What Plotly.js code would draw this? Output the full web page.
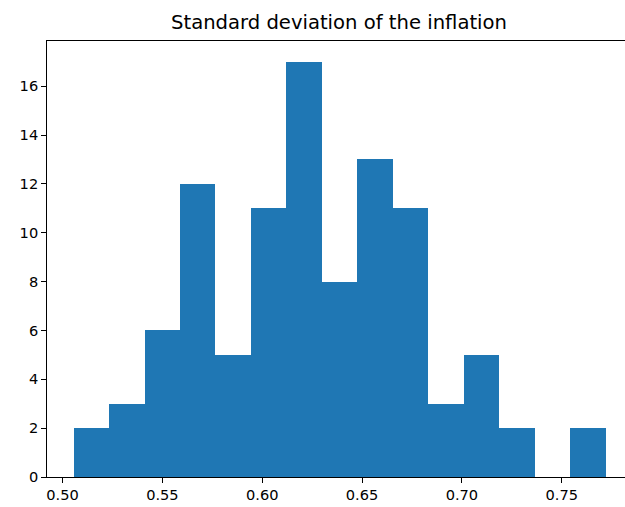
<!DOCTYPE html>
<html>
<head>
<meta charset="utf-8">
<script src="https://cdn.plot.ly/plotly-3.0.1.min.js"></script>
<style>
  html, body { margin: 0; padding: 0; overflow: hidden; background: #fff; }
  #chart { width: 625px; height: 507px; }
</style>
</head>
<body>
<div id="chart"></div>
<script>
// Histogram of the standard deviation of inflation: 15 equal-width bins
const binStart = 0.5055;
const binWidth = 0.01777;
const counts = [2, 3, 6, 12, 5, 11, 17, 8, 13, 11, 3, 5, 2, 0, 2];
const xTickVals = [0.50, 0.55, 0.60, 0.65, 0.70, 0.75];
const yTickVals = [0, 2, 4, 6, 8, 10, 12, 14, 16];

// bin centres from the bin edges
const centers = counts.map((_, i) => binStart + binWidth * (i + 0.5));

const trace = {
  type: 'bar',
  x: centers,
  y: counts,
  width: counts.map(() => binWidth),
  marker: { color: '#1f77b4', line: { width: 0 } },
  hoverinfo: 'x+y'
};

const tickFont = { family: 'DejaVu Sans, sans-serif', size: 14.6, color: '#000' };

const layout = {
  width: 625,
  height: 507,
  margin: { l: 46.7, r: 0, t: 41, b: 29.7, pad: 0 },
  paper_bgcolor: '#fff',
  plot_bgcolor: '#fff',
  showlegend: false,
  bargap: 0,
  title: {
    text: 'Standard deviation of the inflation',
    font: { family: 'DejaVu Sans, sans-serif', size: 19.6, color: '#000' },
    xref: 'container', x: 339 / 625, xanchor: 'center',
    yref: 'container', y: 1 - 22.5 / 507, yanchor: 'middle'
  },
  xaxis: {
    range: [0.4922, 0.7817],
    tickmode: 'array',
    tickvals: xTickVals,
    ticktext: xTickVals.map(v => v.toFixed(2)),
    ticks: 'outside', ticklen: 4.9, tickwidth: 1, tickcolor: '#000',
    tickfont: tickFont,
    showgrid: false, zeroline: false,
    showline: true, linecolor: '#000', linewidth: 1, mirror: true,
    fixedrange: true
  },
  yaxis: {
    range: [0, 17.85],
    tickmode: 'array',
    tickvals: yTickVals,
    ticktext: yTickVals.map(String),
    ticks: 'outside', ticklen: 4.9, tickwidth: 1, tickcolor: '#000',
    tickfont: tickFont,
    showgrid: false, zeroline: false,
    showline: true, linecolor: '#000', linewidth: 1, mirror: false,
    fixedrange: true
  }
};

Plotly.newPlot('chart', [trace], layout, { displayModeBar: false, staticPlot: true });
</script>
</body>
</html>
